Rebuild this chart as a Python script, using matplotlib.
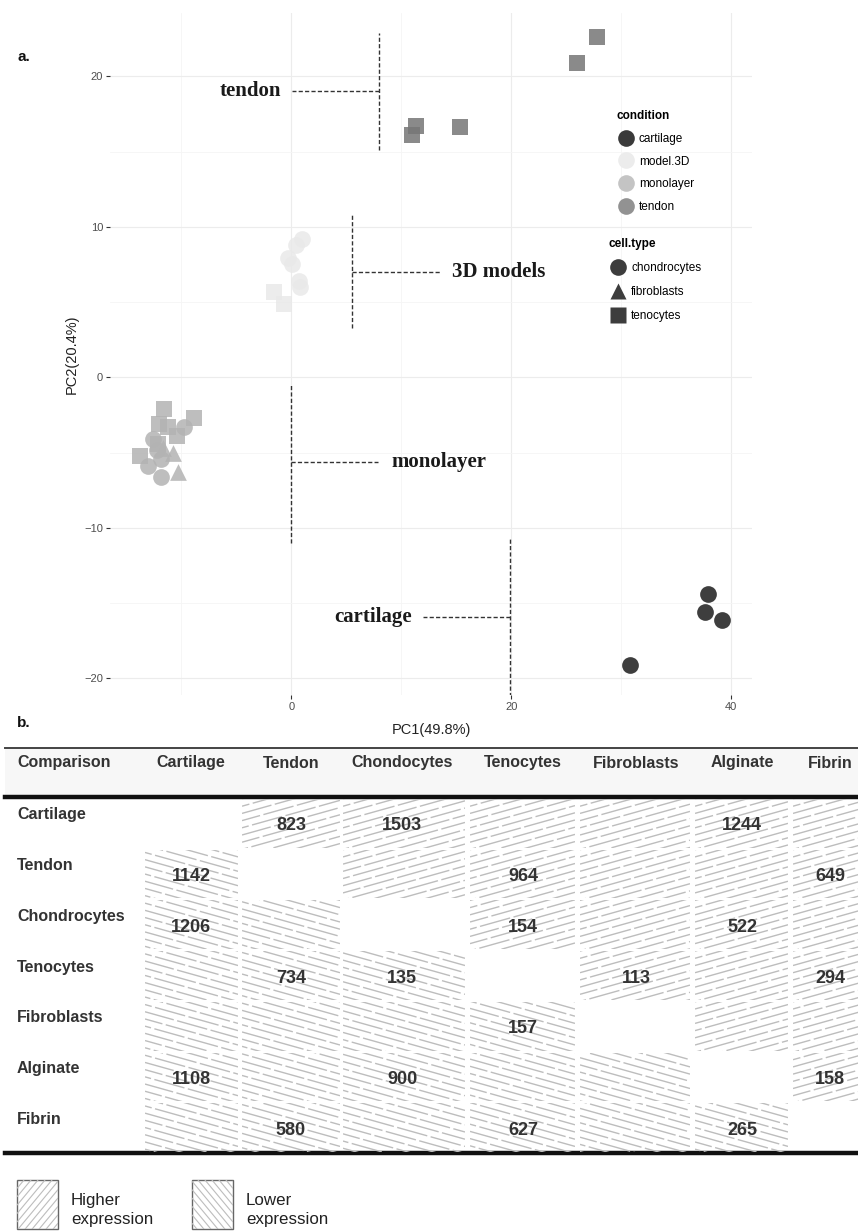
import matplotlib.pyplot as plt
import numpy as np
from matplotlib.lines import Line2D
from matplotlib.patches import Rectangle

plt.rcParams['font.family'] = ['Liberation Sans', 'DejaVu Sans']

# ---- panel a: PCA scores, one list per condition ----
cartilage_x = [37.9, 37.6, 39.2, 30.8]
cartilage_y = [-14.4, -15.6, -16.1, -19.1]
cartilage_type = ['chondrocytes'] * 4

model3d_x = [1.0, 0.45, -0.3, 0.1, 0.7, 0.8, -1.6, -0.7]
model3d_y = [9.2, 8.8, 7.9, 7.5, 6.4, 6.0, 5.7, 4.9]
model3d_type = ['chondrocytes'] * 6 + ['tenocytes'] * 2

mono_x = [-11.6, -8.9, -12.0, -10.4, -12.1, -13.8, -11.2,
          -9.8, -12.6, -13.0, -11.9, -12.2, -11.9,
          -10.8, -11.7, -10.3]
mono_y = [-2.1, -2.7, -3.1, -3.9, -4.4, -5.2, -3.3,
          -3.3, -4.1, -5.9, -6.6, -4.8, -5.4,
          -5.0, -4.7, -6.3]
mono_type = ['tenocytes'] * 7 + ['chondrocytes'] * 6 + ['fibroblasts'] * 3

tendon_x = [27.8, 26.0, 11.3, 11.0, 15.3]
tendon_y = [22.6, 20.9, 16.7, 16.1, 16.6]
tendon_type = ['tenocytes'] * 5

conditions = ['cartilage', 'model.3D', 'monolayer', 'tendon']
cond_x = [cartilage_x, model3d_x, mono_x, tendon_x]
cond_y = [cartilage_y, model3d_y, mono_y, tendon_y]
cond_type = [cartilage_type, model3d_type, mono_type, tendon_type]
cond_colors = ['#1c1c1c', '#e9e9e9', '#b3b3b3', '#767676']
legend_colors = ['#3a3a3a', '#ececec', '#c4c4c4', '#929292']

cell_types = ['chondrocytes', 'fibroblasts', 'tenocytes']
type_markers = {'chondrocytes': 'o', 'fibroblasts': '^', 'tenocytes': 's'}

# bracket annotations
ann_text = ['tendon', '3D models', 'monolayer', 'cartilage']
ann_bar_x = [8.0, 5.55, 0.0, 19.9]
ann_bar_lo = [15.1, 3.3, -11.0, -21.6]
ann_bar_hi = [22.9, 10.8, -0.5, -10.7]
ann_mid_y = [19.0, 7.0, -5.65, -15.9]
ann_lead_x = [0.1, 13.5, 7.9, 12.0]
ann_text_x = [-0.9, 14.6, 9.1, 11.0]
ann_ha = ['right', 'left', 'left', 'right']

# ---- panel b: number of DE genes ----
row_names = ['Cartilage', 'Tendon', 'Chondrocytes', 'Tenocytes',
             'Fibroblasts', 'Alginate', 'Fibrin']
col_names = ['Cartilage', 'Tendon', 'Chondocytes', 'Tenocytes',
             'Fibroblasts', 'Alginate', 'Fibrin']
de_counts = [
    [None, 823, 1503, None, None, 1244, None],
    [1142, None, None, 964, None, None, 649],
    [1206, None, None, 154, None, 522, None],
    [None, 734, 135, None, 113, None, 294],
    [None, None, None, 157, None, None, None],
    [1108, None, 900, None, None, None, 158],
    [None, 580, None, 627, None, 265, None],
]

W, H = 858, 1232
fig = plt.figure(figsize=(W / 100, H / 100), dpi=100)

# full-figure pixel axes for the table and panel letters
pix = fig.add_axes([0, 0, 1, 1])
pix.set_xlim(0, W)
pix.set_ylim(H, 0)
pix.axis('off')

# scatter axes placed in pixels
left, right, top, bottom = 110, 752, 13, 695
ax = fig.add_axes([left / W, 1 - bottom / H, (right - left) / W, (bottom - top) / H])
ax.set_facecolor('none')
ax.set_xlim(-16.5, 41.9)
ax.set_ylim(-21.1, 24.2)
for s in ax.spines.values():
    s.set_visible(False)
ax.set_xticks([0, 20, 40])
ax.set_yticks([-20, -10, 0, 10, 20])
ax.set_xticks([-10, 10, 30], minor=True)
ax.set_yticks([-15, -5, 5, 15], minor=True)
ax.grid(True, which='major', color='#ececec', lw=0.8)
ax.grid(True, which='minor', color='#f5f5f5', lw=0.6)
ax.set_axisbelow(True)
ax.tick_params(which='major', length=3, width=0.8, color='#333333',
               labelsize=8, labelcolor='#4d4d4d', pad=2)
ax.tick_params(which='minor', length=0)
ax.set_xlabel('PC1(49.8%)', fontsize=10.5, color='#222222', labelpad=8)
ax.set_ylabel('PC2(20.4%)', fontsize=10.5, color='#222222', labelpad=4)

for cx, cy, ct, col in zip(cond_x, cond_y, cond_type, cond_colors):
    cx, cy, ct = np.array(cx), np.array(cy), np.array(ct)
    for t in cell_types:
        m = ct == t
        if m.any():
            ax.scatter(cx[m], cy[m], s=145, marker=type_markers[t], c=col,
                       alpha=0.85, linewidths=0, zorder=3)

for i in range(len(ann_text)):
    ax.plot([ann_bar_x[i], ann_bar_x[i]], [ann_bar_lo[i], ann_bar_hi[i]],
            color='#333333', lw=1.0, dashes=(3, 1.6), zorder=2)
    ax.plot([ann_bar_x[i], ann_lead_x[i]], [ann_mid_y[i], ann_mid_y[i]],
            color='#333333', lw=1.0, dashes=(3, 1.6), zorder=2)
    ax.text(ann_text_x[i], ann_mid_y[i], ann_text[i], ha=ann_ha[i], va='center',
            fontsize=15, fontweight='bold', family='Liberation Serif', color='#1a1a1a')

# legends
h1 = [Line2D([], [], ls='none', marker='o', ms=12, mfc=c, mec='none') for c in legend_colors]
leg1 = ax.legend(h1, conditions, title='condition', loc='upper left',
                 bbox_to_anchor=(611 / W, 1 - 104 / H), bbox_transform=fig.transFigure,
                 frameon=False, fontsize=8.5, title_fontsize=8.5, borderpad=0,
                 handlelength=1.6, handletextpad=0.25, labelspacing=0.92,
                 alignment='left')
leg1.get_title().set_fontweight('bold')
ax.add_artist(leg1)
h2 = [Line2D([], [], ls='none', marker=type_markers[t], ms=12, mfc='#3d3d3d', mec='none')
      for t in cell_types]
leg2 = ax.legend(h2, cell_types, title='cell.type', loc='upper left',
                 bbox_to_anchor=(603 / W, 1 - 232 / H), bbox_transform=fig.transFigure,
                 frameon=False, fontsize=8.5, title_fontsize=8.5, borderpad=0,
                 handlelength=1.6, handletextpad=0.3, labelspacing=1.02,
                 alignment='left')
leg2.get_title().set_fontweight('bold')

pix.text(17, 57, 'a.', fontsize=11, fontweight='bold', va='center', color='#111111')
pix.text(17, 723, 'b.', fontsize=11, fontweight='bold', va='center', color='#111111')

# ---- table layout (pixels) ----
col_left = [145, 242, 343, 470, 580, 695, 793]
col_right = [238, 340, 465, 575, 690, 788, 880]
col_center = [191, 291, 402, 523, 636, 742, 830]
row_top0, row_h = 798, 50.7
hatch_col = '#bdbdbd'


def hatch_box(x0, y0, x1, y1, slope, step, lw, dashed=False):
    clip = Rectangle((x0, y0), x1 - x0, y1 - y0, fc='none', ec='none')
    pix.add_patch(clip)
    span = abs(slope) * (x1 - x0)
    for k, c in enumerate(np.arange(y0 - span - step, y1 + span + step, step)):
        if slope < 0:
            ys = [c + span, c]
        else:
            ys = [c, c + span]
        ln, = pix.plot([x0, x1], ys, color=hatch_col, lw=lw, solid_capstyle='butt')
        if dashed:
            ln.set_linestyle(((k * 8.5) % 25, (22.5, 2.5)))
        ln.set_clip_path(clip)


pix.add_patch(Rectangle((5, 748), W, 47, fc='#f7f7f7', ec='none'))
pix.plot([5, W], [748, 748], color='#444444', lw=1.4)
pix.plot([5, W], [797, 797], color='#111111', lw=3.2)
pix.plot([5, W], [1153, 1153], color='#111111', lw=3.2)

pix.text(17, 763, 'Comparison', fontsize=11.5, fontweight='bold', va='center', color='#333333')
for j, name in enumerate(col_names):
    pix.text(col_center[j], 763, name, fontsize=11.5, fontweight='bold',
             ha='center', va='center', color='#333333')

for i, rname in enumerate(row_names):
    t = row_top0 + i * row_h
    pix.text(17, t + 17, rname, fontsize=11.5, fontweight='bold', va='center', color='#333333')
    for j in range(len(col_names)):
        if i == j:
            continue
        slope = -0.28 if j > i else 0.28
        hatch_box(col_left[j], t + 1, col_right[j], t + row_h - 1, slope, 7.2, 1.0, dashed=True)
        v = de_counts[i][j]
        if v is not None:
            pix.text(col_center[j], t + 28, str(v), fontsize=13, fontweight='bold',
                     ha='center', va='center', color='#333333')

# bottom key
key_x = [17, 192]
key_slope = [-1.2, 1.2]
key_text = ['Higher\nexpression', 'Lower\nexpression']
for kx, ks, kt in zip(key_x, key_slope, key_text):
    hatch_box(kx, 1180, kx + 41, 1229, ks, 8.4, 0.8)
    pix.add_patch(Rectangle((kx, 1180), 41, 49, fc='none', ec='#666666', lw=1.0))
    pix.text(kx + 54, 1210, kt, fontsize=12.2, va='center', linespacing=1.3, color='#222222')

fig.savefig('out.png', dpi=100)
